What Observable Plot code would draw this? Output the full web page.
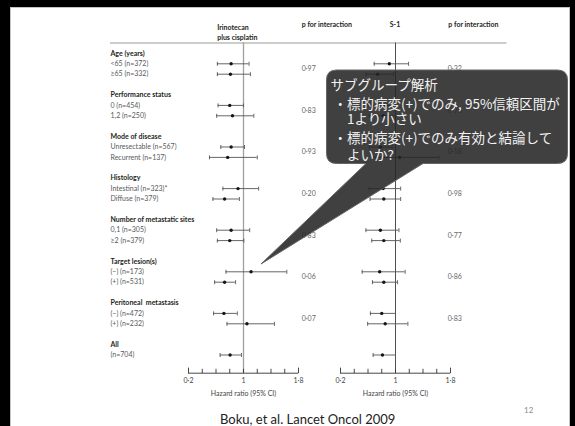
<!DOCTYPE html>
<html><head><meta charset="utf-8">
<script src="https://cdn.jsdelivr.net/npm/d3@7"></script>
<script src="https://cdn.jsdelivr.net/npm/@observablehq/plot@0.6"></script>
<style>
html,body{margin:0;padding:0;width:575px;height:426px;overflow:hidden;background:#000;}
#slide{position:absolute;left:10px;top:7px;width:558px;height:440px;background:#fff;border:1px solid #c4c4c4;}
#chart{position:absolute;left:0;top:0;}
#overlay{position:absolute;left:0;top:0;}
</style></head><body>
<div id="slide"></div>
<div id="chart"></div>
<svg id="overlay" width="575" height="426">
  <path d="M336.5,70 H557.5 Q567.5,70 567.5,80 V153.5 Q567.5,163.5 557.5,163.5 H423 L261,264 L366,163.5 H336.5 Q326.5,163.5 326.5,153.5 V80 Q326.5,70 336.5,70 Z" fill="rgba(38,38,38,0.88)" stroke="#666" stroke-width="1"/>
  <g font-family="'Noto Sans CJK JP', sans-serif" font-size="13.5" fill="#f2f2f2" dominant-baseline="central">
    <text x="330.5" y="83.7">サブグループ解析</text>
    <text x="333.5" y="102.5">・標的病変(+)でのみ, 95%信頼区間が</text>
    <text x="347" y="118">1より小さい</text>
    <text x="333.5" y="137">・標的病変(+)でのみ有効と結論して</text>
    <text x="347" y="153.7">よいか?</text>
  </g>
  <text x="307.7" y="418.5" text-anchor="middle" dominant-baseline="central" font-family="Lato, sans-serif" font-size="13" fill="#222">Boku, et al. Lancet Oncol 2009</text>
  <text x="524" y="410" text-anchor="start" dominant-baseline="central" font-family="Lato, sans-serif" font-size="8" fill="#8c8c8c">12</text>
</svg>
<script>
const trtNames = ["Irinotecan plus cisplatin", "S-1"];
const groupNames = ["Age (years)", "Performance status", "Mode of disease", "Histology",
  "Number of metastatic sites", "Target lesion(s)", "Peritoneal  metastasis", "All"];
const subgroupNames = [
  ["<65 (n=372)", "≥65 (n=332)"],
  ["0 (n=454)", "1,2 (n=250)"],
  ["Unresectable (n=567)", "Recurrent (n=137)"],
  ["Intestinal (n=323)*", "Diffuse (n=379)"],
  ["0,1 (n=305)", "≥2 (n=379)"],
  ["(−) (n=173)", "(+) (n=531)"],
  ["(−) (n=472)", "(+) (n=232)"],
  ["(n=704)"]
];
// Irinotecan plus cisplatin: hazard ratio and 95% CI
const iriHR = [0.82, 0.81, 0.80, 0.84, 0.82, 0.77, 0.92, 0.725, 0.82, 0.80, 1.11, 0.725, 0.715, 1.05, 0.805];
const iriLo = [0.62, 0.62, 0.63, 0.61, 0.67, 0.505, 0.70, 0.555, 0.61, 0.62, 0.745, 0.58, 0.565, 0.76, 0.66];
const iriHi = [1.08, 1.10, 1.00, 1.15, 1.015, 1.20, 1.22, 0.94, 1.09, 1.005, 1.63, 0.885, 0.91, 1.45, 0.97];
// S-1: hazard ratio and 95% CI
const s1HR = [0.91, 0.74, 0.76, 0.82, 0.78, 1.06, 0.82, 0.83, 0.78, 0.83, 0.77, 0.83, 0.80, 0.85, 0.81];
const s1Lo = [0.69, 0.57, 0.60, 0.62, 0.62, 0.685, 0.615, 0.63, 0.57, 0.655, 0.515, 0.665, 0.635, 0.595, 0.675];
const s1Hi = [1.19, 0.97, 0.97, 1.10, 0.95, 1.63, 1.075, 1.075, 1.05, 1.07, 1.14, 1.03, 1.00, 1.18, 1.00];
const pIri = ["0·97", "0·83", "0·93", "0·20", "0·83", "0·06", "0·07"];
const pS1 = ["0·32", "0·70", "0·18", "0·98", "0·77", "0·86", "0·83"];
const xTicks = [0.2, 0.4, 0.6, 0.8, 1.0, 1.2, 1.4, 1.6, 1.8];
const tickLabelValues = [0.2, 1, 1.8];
const tickLabelText = ["0·2", "1", "1·8"];
const axisTitle = "Hazard ratio (95% CI)";
const refValue = 1;

// build tables (row slot = order within the table)
const rows = [], labels = [], pRows = [];
let idx = 0;
groupNames.forEach((g, gi) => {
  labels.push({slot: gi * 4, text: g, bold: true});
  subgroupNames[gi].forEach((s, si) => {
    const slot = gi * 4 + 1 + si;
    labels.push({slot, text: s, bold: false});
    rows.push({trt: trtNames[0], slot, hr: iriHR[idx], lo: iriLo[idx], hi: iriHi[idx]});
    rows.push({trt: trtNames[1], slot, hr: s1HR[idx], lo: s1Lo[idx], hi: s1Hi[idx]});
    idx++;
  });
});
pIri.forEach((p, i) => pRows.push({trt: trtNames[0], slot: i * 4 + 1.5, p}));
pS1.forEach((p, i) => pRows.push({trt: trtNames[1], slot: i * 4 + 1.5, p}));

const yTop = -1, yBottom = 30.75;
const capSymbol = {draw(c, size) { const r = Math.sqrt(size / Math.PI); c.moveTo(0, -r); c.lineTo(0, r); }};
const tickUp = {draw(c, size) { const r = Math.sqrt(size / Math.PI); c.moveTo(0, 0); c.lineTo(0, -2 * r); }};
const left = trtNames[0], right = trtNames[1];

const chart = Plot.plot({
  width: 575, height: 405,
  marginTop: 42.5, marginBottom: 32.3, marginLeft: 187.3, marginRight: 124.5,
  style: {background: "transparent", fontFamily: "Lato, sans-serif", fontSize: "7px", overflow: "visible"},
  fx: {domain: trtNames, paddingInner: 0.2763, paddingOuter: 0, axis: null},
  x: {domain: [0.2, 1.8], axis: null},
  y: {domain: [yBottom, yTop], axis: null},
  marks: [
    // header rule
    Plot.ruleY([{trt: left}], {fx: "trt", y: () => yTop, insetLeft: -78, insetRight: -208.4, stroke: "#9a9a9a", strokeWidth: 1}),
    // reference lines at HR = 1
    Plot.ruleX([{trt: left}], {fx: "trt", x: () => refValue, stroke: "#a0a0a0", strokeWidth: 1.3}),
    Plot.ruleX([{trt: right}], {fx: "trt", x: () => refValue, stroke: "#505050", strokeWidth: 1}),
    // axis baseline and ticks
    Plot.ruleY([yBottom], {stroke: "#333", strokeWidth: 0.9}),
    Plot.dot(xTicks.slice(1, -1), {x: d => d, frameAnchor: "bottom", symbol: tickUp, r: 2.2, stroke: "#333", strokeWidth: 0.9, fill: "none"}),
    Plot.dot([xTicks[0], xTicks[xTicks.length - 1]], {x: d => d, frameAnchor: "bottom", symbol: tickUp, r: 2.8, stroke: "#333", strokeWidth: 0.9, fill: "none"}),
    Plot.text(tickLabelValues, {x: d => d, text: (d, i) => tickLabelText[i], frameAnchor: "bottom", dy: 10, fill: "#444"}),
    Plot.text([axisTitle], {frameAnchor: "bottom", dy: 22.3, fill: "#444"}),
    // confidence intervals
    Plot.ruleY(rows, {fx: "trt", y: "slot", x1: "lo", x2: "hi", stroke: "#555", strokeWidth: 0.9}),
    Plot.dot(rows, {fx: "trt", x: "lo", y: "slot", symbol: capSymbol, r: 2, stroke: "#555", strokeWidth: 0.9, fill: "none"}),
    Plot.dot(rows, {fx: "trt", x: "hi", y: "slot", symbol: capSymbol, r: 2, stroke: "#555", strokeWidth: 0.9, fill: "none"}),
    Plot.dot(rows, {fx: "trt", x: "hr", y: "slot", r: 1.7, fill: "#151515", stroke: "none"}),
    // row labels
    Plot.text(labels.filter(d => d.bold), {fx: () => left, y: "slot", text: "text", frameAnchor: "left", textAnchor: "start", dx: -78, fontWeight: "bold", fill: "#231f20"}),
    Plot.text(labels.filter(d => !d.bold), {fx: () => left, y: "slot", text: "text", frameAnchor: "left", textAnchor: "start", dx: -78, fill: "#58595b"}),
    // p for interaction values
    Plot.text(pRows.filter(d => d.trt === left), {fx: "trt", y: "slot", text: "p", frameAnchor: "right", textAnchor: "start", dx: 3.2, fill: "#666"}),
    Plot.text(pRows.filter(d => d.trt === right), {fx: "trt", y: "slot", text: "p", frameAnchor: "right", textAnchor: "start", dx: -2.7, fill: "#666"}),
    // column headers
    Plot.text([{trt: left, t: "Irinotecan\nplus cisplatin"}], {fx: "trt", text: "t", frameAnchor: "top-left", textAnchor: "start", lineAnchor: "top", dx: 28.7, dy: -21, lineHeight: 1.53, fontWeight: "bold", fill: "#231f20"}),
    Plot.text([{trt: left, t: "p for interaction"}], {fx: "trt", text: "t", frameAnchor: "top-right", textAnchor: "start", lineAnchor: "top", dx: 3.2, dy: -21, fontWeight: "bold", fill: "#231f20"}),
    Plot.text([{trt: right, t: "S-1"}], {fx: "trt", text: "t", frameAnchor: "top-left", textAnchor: "start", lineAnchor: "top", dx: 49.2, dy: -21, fontWeight: "bold", fill: "#231f20"}),
    Plot.text([{trt: right, t: "p for interaction"}], {fx: "trt", text: "t", frameAnchor: "top-right", textAnchor: "start", lineAnchor: "top", dx: -2.2, dy: -21, fontWeight: "bold", fill: "#231f20"})
  ]
});
document.getElementById("chart").appendChild(chart);
</script>
</body></html>
